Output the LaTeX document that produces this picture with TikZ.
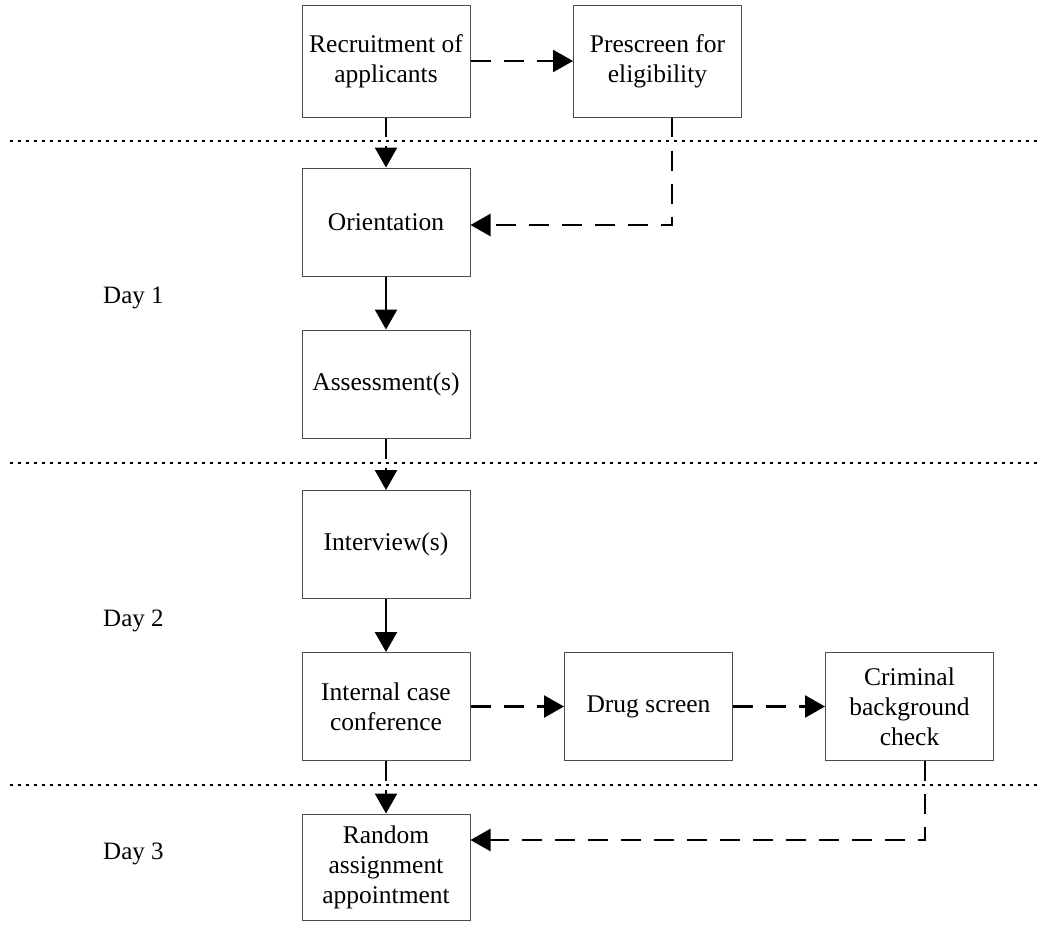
\documentclass[tikz,border=0pt]{standalone}
\usepackage{fontspec}
\setmainfont{Liberation Serif}
\usetikzlibrary{arrows.meta}
\begin{document}
\begin{tikzpicture}[x=1pt,y=-1pt,
 box/.style={draw=black!70, line width=1pt, minimum width=168pt, minimum height=108pt, align=center, font=\fontsize{25.5}{30}\selectfont, inner sep=2pt},
 solidarrow/.style={line width=2.5pt, -{Triangle[length=20pt,width=22pt]}},
 dasharrow/.style={line width=2.5pt, dash pattern=on 20pt off 13pt, -{Triangle[length=20pt,width=22pt]}},
 divider/.style={line width=2.5pt, dash pattern=on 2.5pt off 5.5pt, preaction={draw=white, line width=9pt, solid}},
 daylabel/.style={anchor=west, font=\fontsize{25}{30}\selectfont, inner sep=0pt}]
\useasboundingbox (0,0) rectangle (1049,926);

\node[box, minimum height=112pt] (rec) at (386,61) {Recruitment of\\applicants};
\node[box, minimum height=112pt] (pre) at (657.5,61) {Prescreen for\\eligibility};
\node[box] (ori) at (386,222) {Orientation};
\node[box] (ass) at (386,384) {Assessment(s)};
\node[box] (int) at (386,544.5) {Interview(s)};
\node[box] (icc) at (386,706.5) {Internal case\\conference};
\node[box] (dru) at (648.5,706.5) {Drug screen};
\node[box] (cri) at (909.5,706.5) {Criminal\\background\\check};
\node[box, minimum height=106pt] (ran) at (386,867) {Random\\assignment\\appointment};

\node[daylabel] (d1) at (103,298) {Day 1};
\node[daylabel] (d2) at (103,621) {Day 2};
\node[daylabel] (d3) at (103,854) {Day 3};

\coordinate (c1) at (672,225);
\coordinate (c2) at (925,840);

\draw[solidarrow] (rec.south) -- (ori.north);
\draw[solidarrow] (ori.south) -- (ass.north);
\draw[solidarrow] (ass.south) -- (int.north);
\draw[solidarrow] (int.south) -- (icc.north);
\draw[solidarrow] (icc.south) -- (ran.north);
\draw[dasharrow] (rec.east) -- (pre.west);
\draw[dasharrow] (icc.east) -- (dru.west);
\draw[dasharrow] (dru.east) -- (cri.west);
\draw[dasharrow] (pre.south -| c1) -- (c1) -- (ori.east |- c1);
\draw[dasharrow] (cri.south -| c2) -- (c2) -- (ran.east |- c2);

\coordinate (l1a) at (10,141); \coordinate (l1b) at (1040,141);
\coordinate (l2a) at (10,463); \coordinate (l2b) at (1040,463);
\coordinate (l3a) at (10,785); \coordinate (l3b) at (1040,785);
\draw[divider] (l1a) -- (l1b);
\draw[divider] (l2a) -- (l2b);
\draw[divider] (l3a) -- (l3b);
\end{tikzpicture}
\end{document}
